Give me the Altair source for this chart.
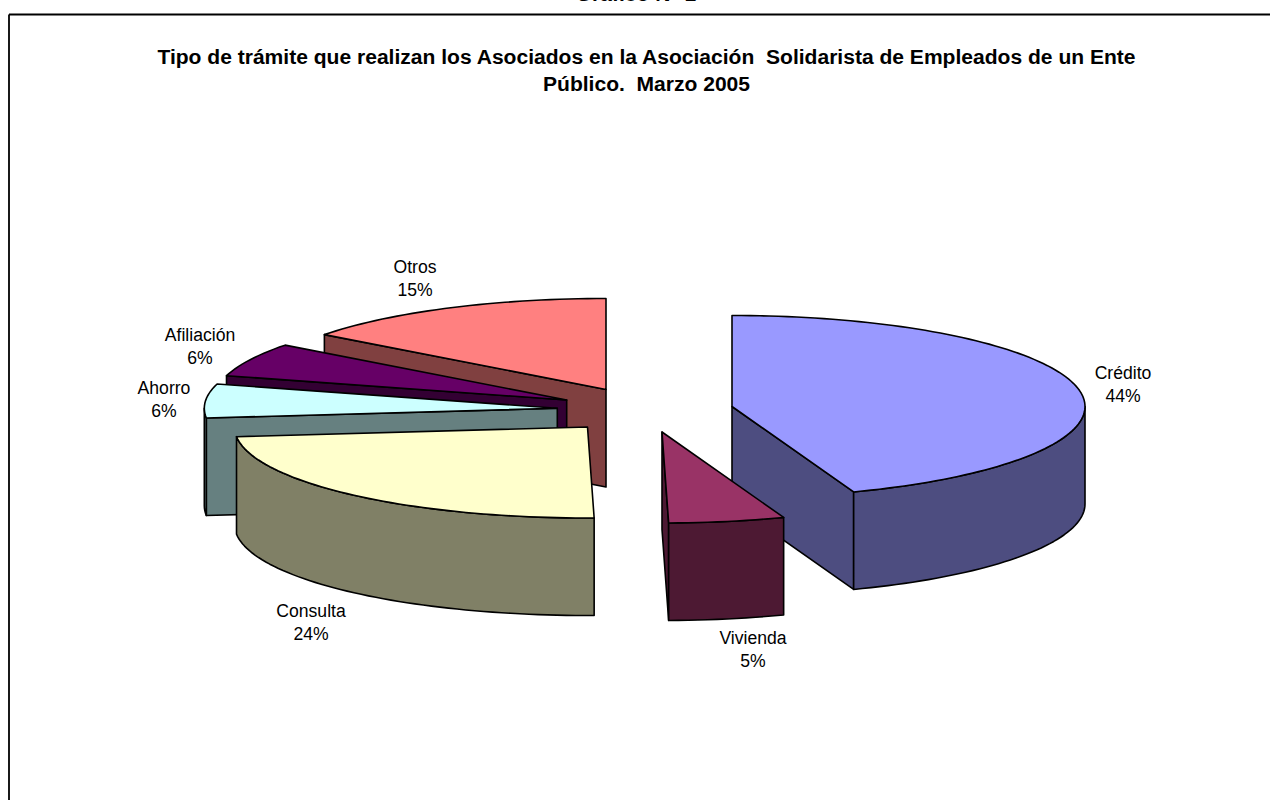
import math
import altair as alt

# Slice data, clockwise from twelve o'clock; labels show the rounded share
categories = ["Crédito", "Vivienda", "Consulta", "Ahorro", "Afiliación", "Otros"]
shares = [44.4, 5.3, 23.6, 6.0, 6.0, 14.7]
top_colors = ["#9999FF", "#993366", "#FFFFCC", "#CCFFFF", "#660066", "#FF8080"]
side_colors = ["#4D4D80", "#4D1933", "#808066", "#668080", "#330033", "#804040"]

# Non-breaking spaces keep the double gaps in the heading text
title_lines = [
    "Tipo de trámite que realizan los Asociados en la Asociación\u00a0\u00a0Solidarista de Empleados de un Ente",
    "Público.\u00a0\u00a0Marzo 2005",
]
heading = "Gráfico N° 1"

# Pie geometry: every slice is exploded from its own apex on the page
RX, RY, DEPTH = 353, 91, 97.5
apexes = {
    "Crédito": (732, 406.5),
    "Vivienda": (662, 432),
    "Consulta": (587.5, 427),
    "Ahorro": (557.3, 408.3),
    "Afiliación": (566.7, 400),
    "Otros": (606, 389.5),
}
label_anchor = {
    "Crédito": (1123, 374),
    "Vivienda": (753, 639),
    "Consulta": (311, 612),
    "Ahorro": (164, 389),
    "Afiliación": (200, 336),
    "Otros": (415, 268),
}
draw_order = ["Crédito", "Otros", "Afiliación", "Ahorro", "Vivienda", "Consulta"]


def rim(name, deg):
    ax, ay = apexes[name]
    t = math.radians(deg)
    return (ax + RX * math.sin(t), ay - RY * math.cos(t))


def drop(p):
    return (p[0], p[1] + DEPTH)


def feature(points, fill):
    ring = [list(p) for p in points] + [list(points[0])]
    return {
        "type": "Feature",
        "properties": {"fill": fill},
        "geometry": {"type": "Polygon", "coordinates": [ring]},
    }


def arc_points(name, a, b):
    steps = max(2, int(abs(b - a) / 1.5))
    return [rim(name, a + (b - a) * i / steps) for i in range(steps + 1)]


spans = {}
acc = 0.0
for name, share in zip(categories, shares):
    spans[name] = (acc, acc + share * 3.6)
    acc += share * 3.6

features = []
for name in draw_order:
    i = categories.index(name)
    a, b = spans[name]
    top, side = top_colors[i], side_colors[i]
    apex = apexes[name]

    # Cut faces: the opening edge shows past 180 degrees, the closing edge before it
    if 180 < a < 360:
        p = rim(name, a)
        features.append(feature([apex, p, drop(p), drop(apex)], side))
    if 0 < b < 180:
        p = rim(name, b)
        features.append(feature([apex, p, drop(p), drop(apex)], side))

    # Outer wall: only the front half of the rim shows
    lo, hi = max(a, 90), min(b, 270)
    if lo < hi:
        arc = arc_points(name, lo, hi)
        features.append(feature(arc + [drop(p) for p in reversed(arc)], side))

    # Top face
    features.append(feature([apex] + arc_points(name, a, b), top))

W, H = 1270, 800

pie = (
    alt.Chart(alt.Data(values=features))
    .mark_geoshape(stroke="#000000", strokeWidth=1.6, strokeJoin="round")
    .encode(fill=alt.Fill("properties.fill:N", scale=None))
)

label_rows = []
for name, share in zip(categories, shares):
    lx, ly = label_anchor[name]
    label_rows.append({"x": lx, "y": ly, "t": name})
    label_rows.append({"x": lx, "y": ly + 23, "t": f"{round(share)}%"})

labels = (
    alt.Chart(alt.Data(values=label_rows))
    .mark_text(font="Liberation Sans", fontSize=17.6, color="#000000", baseline="middle", align="center")
    .encode(longitude=alt.Longitude("x:Q"), latitude=alt.Latitude("y:Q"), text="t:N")
)

titles = (
    alt.Chart(
        alt.Data(
            values=[
                {"x": 646.5, "y": 58, "t": title_lines[0]},
                {"x": 646.5, "y": 85, "t": title_lines[1]},
            ]
        )
    )
    .mark_text(font="Liberation Sans", fontSize=21.05, fontWeight="bold", color="#000000", baseline="middle", align="center")
    .encode(longitude=alt.Longitude("x:Q"), latitude=alt.Latitude("y:Q"), text="t:N")
)

# Heading sitting above the frame, running off the top of the page
head = (
    alt.Chart(alt.Data(values=[{"x": 636, "y": 0.5, "t": heading}]))
    .mark_text(font="Liberation Sans", fontSize=21, fontWeight="bold", color="#000000", baseline="alphabetic", align="center")
    .encode(longitude=alt.Longitude("x:Q"), latitude=alt.Latitude("y:Q"), text="t:N")
)

frame_top = (
    alt.Chart(alt.Data(values=[{"x": 9, "y": 14.5, "o": 0}, {"x": W, "y": 14.5, "o": 1}]))
    .mark_line(color="#000000", strokeWidth=1.8)
    .encode(longitude=alt.Longitude("x:Q"), latitude=alt.Latitude("y:Q"), order="o:Q")
)
frame_left = (
    alt.Chart(alt.Data(values=[{"x": 9, "y": 14.5, "o": 0}, {"x": 9, "y": H, "o": 1}]))
    .mark_line(color="#000000", strokeWidth=1.8)
    .encode(longitude=alt.Longitude("x:Q"), latitude=alt.Latitude("y:Q"), order="o:Q")
)

chart = (
    alt.layer(frame_top, frame_left, pie, labels, titles, head)
    .project(type="identity", scale=1, translate=[0, 0])
    .properties(width=W, height=H, padding=0, autosize=alt.AutoSizeParams(type="none"), background="#FFFFFF")
    .configure_view(stroke=None)
)

chart.save("out.html", embed_options={"renderer": "svg", "actions": False})
